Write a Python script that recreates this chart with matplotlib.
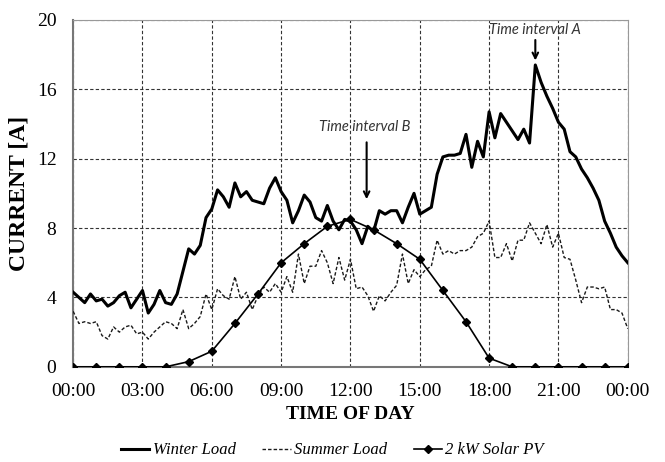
import numpy as np
import matplotlib
matplotlib.use('Agg')
import matplotlib.pyplot as plt

# 15-minute samples over one day
hours = np.arange(0, 24.01, 0.25)

winter_load = [
    4.3, 4.0, 3.7, 4.2, 3.8, 3.9, 3.5, 3.7, 4.1, 4.3, 3.4, 3.9,
    4.4, 3.1, 3.6, 4.4, 3.7, 3.6, 4.2, 5.5, 6.8, 6.5, 7.0, 8.6,
    9.1, 10.2, 9.8, 9.2, 10.6, 9.8, 10.1, 9.6, 9.5, 9.4, 10.3, 10.9,
    10.1, 9.6, 8.3, 9.0, 9.9, 9.5, 8.6, 8.4, 9.3, 8.4, 7.9, 8.5,
    8.4, 7.9, 7.1, 8.1, 7.8, 9.0, 8.8, 9.0, 9.0, 8.3, 9.2, 10.0,
    8.8, 9.0, 9.2, 11.1, 12.1, 12.2, 12.2, 12.3, 13.4, 11.5, 13.0, 12.1,
    14.7, 13.2, 14.6, 14.1, 13.6, 13.1, 13.7, 12.9, 17.4, 16.4, 15.6, 14.9,
    14.1, 13.7, 12.4, 12.1, 11.4, 10.9, 10.3, 9.6, 8.4, 7.7, 6.9, 6.4,
    6.0,
]

summer_load = [
    3.2, 2.5, 2.6, 2.5, 2.6, 1.8, 1.6, 2.3, 2.0, 2.3, 2.4, 1.9,
    2.0, 1.6, 2.0, 2.3, 2.6, 2.5, 2.2, 3.3, 2.2, 2.5, 2.9, 4.2,
    3.3, 4.5, 4.1, 3.9, 5.2, 3.9, 4.3, 3.3, 4.1, 4.6, 4.3, 4.8,
    4.3, 5.2, 4.3, 6.5, 4.8, 5.8, 5.8, 6.7, 6.0, 4.8, 6.3, 5.0,
    6.2, 4.5, 4.6, 4.1, 3.2, 4.1, 3.8, 4.3, 4.7, 6.5, 4.8, 5.6,
    5.2, 5.6, 5.8, 7.3, 6.5, 6.7, 6.5, 6.7, 6.7, 6.9, 7.5, 7.7,
    8.4, 6.3, 6.3, 7.1, 6.1, 7.3, 7.3, 8.3, 7.7, 7.1, 8.2, 6.9,
    7.7, 6.3, 6.2, 5.0, 3.7, 4.6, 4.6, 4.5, 4.6, 3.3, 3.3, 3.1,
    2.2,
]

pv_hours = np.arange(0, 25)
solar_pv = [0, 0, 0, 0, 0, 0.3, 0.9, 2.5, 4.2, 6.0, 7.1, 8.1, 8.5,
            7.9, 7.1, 6.2, 4.4, 2.6, 0.5, 0, 0, 0, 0, 0, 0]

tick_hours = np.arange(0, 25, 3)
tick_labels = ['00:00', '03:00', '06:00', '09:00', '12:00', '15:00',
               '18:00', '21:00', '00:00']

serif = 'Liberation Serif'

fig = plt.figure(figsize=(6.65, 4.62), dpi=100)
ax = fig.add_axes([0.110, 0.206, 0.834, 0.751])

ax.plot(hours, winter_load, color='black', lw=2.2, label='Winter Load', zorder=3)
ax.plot(hours, summer_load, color='#1a1a1a', lw=1.0, ls=(0, (2.5, 1.5)),
        label='Summer Load', zorder=3)
ax.plot(pv_hours, solar_pv, color='black', lw=1.2, marker='D', ms=4.5,
        label='2 kW Solar PV', zorder=4)

ax.set_xlim(0, 24)
ax.set_ylim(0, 20)
ax.set_xticks(tick_hours)
ax.set_xticklabels(tick_labels)
ax.set_yticks(np.arange(0, 21, 4))
ax.tick_params(length=0, labelsize=14, pad=12)
for lbl in ax.get_xticklabels() + ax.get_yticklabels():
    lbl.set_family(serif)

ax.grid(True, color='#333333', ls=(0, (3, 2)), lw=0.8)
ax.set_axisbelow(True)
for side in ['left', 'bottom']:
    ax.spines[side].set_color('#777777')
    ax.spines[side].set_linewidth(1.5)
for side in ['top', 'right']:
    ax.spines[side].set_color('#999999')
    ax.spines[side].set_linewidth(0.8)

ax.set_xlabel('TIME OF DAY', family=serif, fontweight='bold', fontsize=14,
              labelpad=4)
ax.set_ylabel('CURRENT [A]', family=serif, fontweight='bold', fontsize=17,
              labelpad=5)

# annotations
ax.annotate('', xy=(20.0, 17.5), xytext=(20.0, 19.0),
            arrowprops=dict(arrowstyle='->', color='black', lw=1.5))
ax.text(20.0, 19.4, 'Time interval A', family='Lato', style='italic',
        fontsize=10.5, ha='center', va='center', color='#333333')
ax.annotate('', xy=(12.7, 9.5), xytext=(12.7, 13.1),
            arrowprops=dict(arrowstyle='->', color='black', lw=1.5))
ax.text(12.6, 13.8, 'Time interval B', family='Lato', style='italic',
        fontsize=10.5, ha='center', va='center', color='#333333')

fig.legend(loc='center', bbox_to_anchor=(0.5, 0.025), ncol=3, frameon=False,
           prop={'family': serif, 'style': 'italic', 'size': 12},
           handlelength=1.7, columnspacing=1.6, handletextpad=0.2)

fig.savefig('out.png', dpi=100)
